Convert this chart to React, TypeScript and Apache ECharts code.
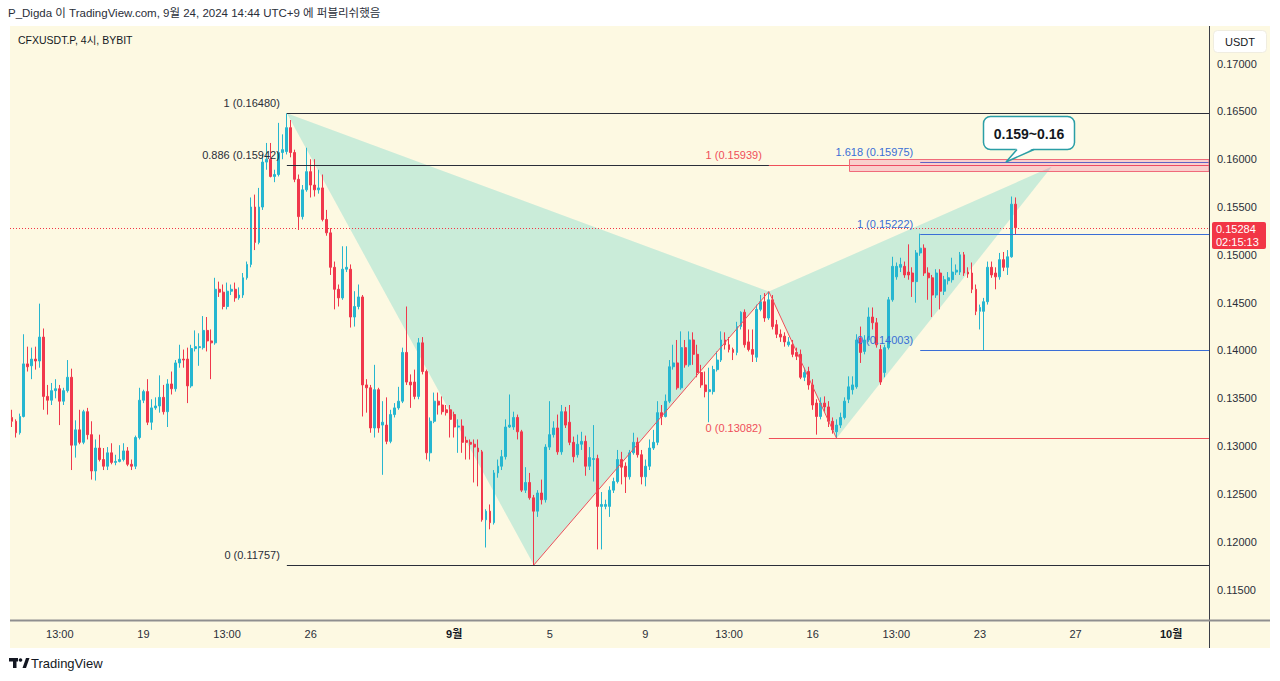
import React, { useEffect, useRef } from "react";
import * as echarts from "echarts";

// ---------- time axis (4h bars, UTC+9 clock) ----------
const BAR_HOURS = 4;
const FIRST_BAR = Date.UTC(2024, 7, 13, 13);
const SLOT_COUNT = 301;
const pad2 = (n: number) => String(n).padStart(2, "0");
const categories: string[] = Array.from({ length: SLOT_COUNT }, (_, i) => {
  const d = new Date(FIRST_BAR + i * BAR_HOURS * 3600 * 1000);
  return `${pad2(d.getUTCMonth() + 1)}-${pad2(d.getUTCDate())} ${pad2(d.getUTCHours())}:00`;
});

// ---------- candles: [open, close, low, high] ----------
const candles: number[][] = [
  [0.1330, 0.1326, 0.1320, 0.1338], [0.1326, 0.1314, 0.1309, 0.1328], [0.1314, 0.1331, 0.1312, 0.1334], [0.1331, 0.1386, 0.1330, 0.1417],
  [0.1386, 0.1383, 0.1378, 0.1404], [0.1384, 0.1391, 0.1370, 0.1403], [0.1391, 0.1389, 0.1380, 0.1404], [0.1389, 0.1414, 0.1382, 0.1449],
  [0.1414, 0.1352, 0.1338, 0.1423], [0.1352, 0.1348, 0.1333, 0.1364], [0.1348, 0.1358, 0.1343, 0.1366], [0.1358, 0.1360, 0.1350, 0.1370],
  [0.1360, 0.1347, 0.1322, 0.1364], [0.1347, 0.1358, 0.1343, 0.1361], [0.1358, 0.1372, 0.1356, 0.1390], [0.1372, 0.1301, 0.1275, 0.1381],
  [0.1301, 0.1317, 0.1288, 0.1327], [0.1317, 0.1304, 0.1302, 0.1338], [0.1304, 0.1336, 0.1302, 0.1338], [0.1336, 0.1312, 0.1307, 0.1340],
  [0.1312, 0.1274, 0.1265, 0.1326], [0.1274, 0.1298, 0.1264, 0.1307], [0.1298, 0.1286, 0.1284, 0.1312], [0.1286, 0.1279, 0.1275, 0.1298],
  [0.1279, 0.1293, 0.1275, 0.1299], [0.1293, 0.1283, 0.1281, 0.1303], [0.1283, 0.1284, 0.1280, 0.1291], [0.1284, 0.1286, 0.1283, 0.1301],
  [0.1286, 0.1295, 0.1284, 0.1303], [0.1295, 0.1281, 0.1279, 0.1299], [0.1281, 0.1279, 0.1275, 0.1286], [0.1279, 0.1309, 0.1276, 0.1311],
  [0.1309, 0.1348, 0.1307, 0.1361], [0.1348, 0.1357, 0.1345, 0.1359], [0.1357, 0.1325, 0.1322, 0.1370], [0.1325, 0.1340, 0.1317, 0.1349],
  [0.1340, 0.1342, 0.1338, 0.1351], [0.1342, 0.1351, 0.1335, 0.1374], [0.1351, 0.1336, 0.1333, 0.1364], [0.1336, 0.1365, 0.1320, 0.1370],
  [0.1365, 0.1360, 0.1354, 0.1378], [0.1360, 0.1387, 0.1357, 0.1390], [0.1387, 0.1391, 0.1382, 0.1406], [0.1391, 0.1390, 0.1382, 0.1401],
  [0.1391, 0.1363, 0.1345, 0.1403], [0.1363, 0.1402, 0.1361, 0.1406], [0.1402, 0.1404, 0.1399, 0.1421], [0.1403, 0.1404, 0.1384, 0.1418],
  [0.1403, 0.1421, 0.1401, 0.1436], [0.1421, 0.1410, 0.1399, 0.1435], [0.1410, 0.1408, 0.1370, 0.1422], [0.1408, 0.1464, 0.1406, 0.1476],
  [0.1464, 0.1461, 0.1456, 0.1472], [0.1461, 0.1446, 0.1443, 0.1469], [0.1446, 0.1462, 0.1443, 0.1471], [0.1462, 0.1464, 0.1458, 0.1469],
  [0.1464, 0.1455, 0.1451, 0.1471], [0.1455, 0.1458, 0.1453, 0.1466], [0.1458, 0.1476, 0.1455, 0.1481], [0.1476, 0.1490, 0.1474, 0.1493],
  [0.1490, 0.1550, 0.1487, 0.1560], [0.1550, 0.1513, 0.1505, 0.1563], [0.1513, 0.1550, 0.1511, 0.1570], [0.1550, 0.1597, 0.1547, 0.1605],
  [0.1597, 0.1600, 0.1589, 0.1617], [0.1600, 0.1582, 0.1581, 0.1617], [0.1582, 0.1584, 0.1576, 0.1589], [0.1584, 0.1607, 0.1582, 0.1638],
  [0.1607, 0.1610, 0.1600, 0.1626], [0.1608, 0.1633, 0.1605, 0.1648], [0.1633, 0.1607, 0.1602, 0.1641], [0.1607, 0.1579, 0.1576, 0.1610],
  [0.1579, 0.1540, 0.1526, 0.1584], [0.1540, 0.1568, 0.1537, 0.1573], [0.1568, 0.1587, 0.1566, 0.1612], [0.1587, 0.1573, 0.1560, 0.1600],
  [0.1573, 0.1568, 0.1561, 0.1600], [0.1568, 0.1570, 0.1564, 0.1589], [0.1570, 0.1537, 0.1535, 0.1584], [0.1537, 0.1523, 0.1520, 0.1547],
  [0.1523, 0.1487, 0.1479, 0.1528], [0.1487, 0.1464, 0.1443, 0.1493], [0.1464, 0.1455, 0.1446, 0.1469], [0.1455, 0.1485, 0.1453, 0.1509],
  [0.1485, 0.1487, 0.1482, 0.1509], [0.1485, 0.1435, 0.1424, 0.1490], [0.1435, 0.1446, 0.1425, 0.1462], [0.1446, 0.1456, 0.1443, 0.1469],
  [0.1456, 0.1364, 0.1331, 0.1458], [0.1364, 0.1361, 0.1335, 0.1370], [0.1361, 0.1319, 0.1314, 0.1364], [0.1319, 0.1359, 0.1309, 0.1385],
  [0.1359, 0.1319, 0.1314, 0.1361], [0.1322, 0.1325, 0.1270, 0.1347], [0.1322, 0.1305, 0.1302, 0.1351], [0.1305, 0.1333, 0.1303, 0.1338],
  [0.1333, 0.1340, 0.1330, 0.1345], [0.1340, 0.1347, 0.1338, 0.1362], [0.1347, 0.1398, 0.1345, 0.1403], [0.1398, 0.1367, 0.1364, 0.1446],
  [0.1367, 0.1364, 0.1340, 0.1375], [0.1367, 0.1352, 0.1349, 0.1380], [0.1352, 0.1408, 0.1349, 0.1413], [0.1408, 0.1378, 0.1375, 0.1414],
  [0.1378, 0.1293, 0.1286, 0.1380], [0.1293, 0.1326, 0.1284, 0.1330], [0.1326, 0.1347, 0.1324, 0.1356], [0.1347, 0.1343, 0.1333, 0.1356],
  [0.1343, 0.1336, 0.1333, 0.1352], [0.1338, 0.1335, 0.1332, 0.1343], [0.1338, 0.1328, 0.1309, 0.1343], [0.1333, 0.1320, 0.1309, 0.1336],
  [0.1320, 0.1321, 0.1293, 0.1328], [0.1321, 0.1304, 0.1293, 0.1328], [0.1306, 0.1304, 0.1286, 0.1310], [0.1304, 0.1302, 0.1286, 0.1307],
  [0.1302, 0.1299, 0.1262, 0.1307], [0.1298, 0.1294, 0.1258, 0.1307], [0.1294, 0.1223, 0.1221, 0.1296], [0.1223, 0.1232, 0.1194, 0.1234],
  [0.1232, 0.1220, 0.1213, 0.1239], [0.1220, 0.1272, 0.1218, 0.1275], [0.1272, 0.1279, 0.1267, 0.1286], [0.1279, 0.1289, 0.1275, 0.1296],
  [0.1289, 0.1320, 0.1286, 0.1328], [0.1320, 0.1322, 0.1319, 0.1354], [0.1320, 0.1330, 0.1317, 0.1336], [0.1330, 0.1315, 0.1307, 0.1333],
  [0.1315, 0.1254, 0.1252, 0.1317], [0.1254, 0.1262, 0.1251, 0.1278], [0.1262, 0.1246, 0.1244, 0.1272], [0.1246, 0.1232, 0.11757, 0.1249],
  [0.1232, 0.1251, 0.1226, 0.1254], [0.1251, 0.1244, 0.1239, 0.1265], [0.1244, 0.1299, 0.1241, 0.1302], [0.1299, 0.1312, 0.1296, 0.1347],
  [0.1312, 0.1319, 0.1309, 0.1326], [0.1319, 0.1294, 0.1291, 0.1333], [0.1294, 0.1336, 0.1291, 0.1343], [0.1336, 0.1322, 0.1319, 0.1341],
  [0.1325, 0.1304, 0.1301, 0.1343], [0.1304, 0.1289, 0.1283, 0.1310], [0.1291, 0.1302, 0.1288, 0.1312], [0.1302, 0.1305, 0.1296, 0.1315],
  [0.1305, 0.1279, 0.1269, 0.1311], [0.1279, 0.1288, 0.1275, 0.1299], [0.1286, 0.1287, 0.1263, 0.1322], [0.1287, 0.1237, 0.1192, 0.1291],
  [0.1237, 0.1239, 0.1192, 0.1252], [0.1237, 0.1239, 0.1234, 0.1244], [0.1237, 0.1254, 0.1226, 0.1258], [0.1254, 0.1263, 0.1251, 0.1267],
  [0.1263, 0.1286, 0.1261, 0.1296], [0.1286, 0.1278, 0.1260, 0.1294], [0.1279, 0.1268, 0.1251, 0.1283], [0.1268, 0.1293, 0.1265, 0.1296],
  [0.1293, 0.1304, 0.1291, 0.1314], [0.1304, 0.1291, 0.1288, 0.1309], [0.1291, 0.1268, 0.1260, 0.1296], [0.1268, 0.1279, 0.1258, 0.1286],
  [0.1279, 0.1298, 0.1275, 0.1307], [0.1298, 0.1304, 0.1296, 0.1317], [0.1304, 0.1335, 0.1301, 0.1347], [0.1335, 0.1331, 0.1322, 0.1343],
  [0.1331, 0.1347, 0.1330, 0.1354], [0.1347, 0.1383, 0.1345, 0.1390], [0.1383, 0.1387, 0.1380, 0.1406], [0.1387, 0.1361, 0.1359, 0.1411],
  [0.1361, 0.1403, 0.1359, 0.1420], [0.1403, 0.1385, 0.1382, 0.1411], [0.1385, 0.1411, 0.1383, 0.1420], [0.1411, 0.1396, 0.1385, 0.1419],
  [0.1396, 0.1377, 0.1372, 0.1406], [0.1377, 0.1364, 0.1361, 0.1385], [0.1364, 0.1357, 0.1351, 0.1378], [0.1357, 0.1359, 0.1325, 0.1382],
  [0.1357, 0.1380, 0.1354, 0.1384], [0.1380, 0.1390, 0.1378, 0.1399], [0.1390, 0.1411, 0.1388, 0.1420], [0.1411, 0.1406, 0.1401, 0.1419],
  [0.1406, 0.1401, 0.1398, 0.1414], [0.1401, 0.1398, 0.1390, 0.1403], [0.1398, 0.1425, 0.1395, 0.1430], [0.1425, 0.1440, 0.1422, 0.1441],
  [0.1440, 0.1406, 0.1403, 0.1443], [0.1409, 0.1401, 0.1399, 0.1422], [0.1401, 0.1396, 0.1388, 0.1422], [0.1393, 0.1443, 0.1388, 0.1448],
  [0.1443, 0.1451, 0.1441, 0.1458], [0.1451, 0.1434, 0.1430, 0.1460], [0.1434, 0.1453, 0.1432, 0.14616], [0.1453, 0.1425, 0.1422, 0.1458],
  [0.1427, 0.1417, 0.1413, 0.1432], [0.1417, 0.1414, 0.1409, 0.1422], [0.1415, 0.1409, 0.1404, 0.1419], [0.1406, 0.1409, 0.1404, 0.1414],
  [0.1406, 0.1396, 0.1393, 0.1411], [0.1398, 0.1394, 0.1390, 0.1403], [0.1396, 0.1372, 0.1370, 0.1401], [0.1372, 0.1377, 0.1368, 0.1382],
  [0.1378, 0.1364, 0.1359, 0.1383], [0.1364, 0.1343, 0.1338, 0.1370], [0.1345, 0.1331, 0.1312, 0.1349], [0.1331, 0.1345, 0.1328, 0.1351],
  [0.1345, 0.1341, 0.1336, 0.1352], [0.1341, 0.1326, 0.1320, 0.1347], [0.1326, 0.1317, 0.1313, 0.1330], [0.1315, 0.1322, 0.13082, 0.1328],
  [0.1322, 0.1330, 0.1319, 0.1335], [0.1330, 0.1347, 0.1328, 0.1351], [0.1349, 0.1362, 0.1345, 0.1373], [0.1359, 0.1364, 0.1354, 0.1373],
  [0.1362, 0.1411, 0.1360, 0.1417], [0.1413, 0.1398, 0.1387, 0.1425], [0.1399, 0.1411, 0.1396, 0.1416], [0.1411, 0.1435, 0.1409, 0.1445],
  [0.1435, 0.1429, 0.1422, 0.1445], [0.1429, 0.1406, 0.1403, 0.1434], [0.1401, 0.1367, 0.1364, 0.1406], [0.1377, 0.1403, 0.1372, 0.1406],
  [0.1403, 0.1453, 0.1401, 0.1456], [0.1453, 0.1488, 0.1451, 0.1498], [0.1477, 0.1488, 0.1474, 0.1492], [0.1487, 0.1490, 0.1482, 0.1497],
  [0.1488, 0.1479, 0.1476, 0.1493], [0.1482, 0.1479, 0.1474, 0.1511], [0.1481, 0.1472, 0.1456, 0.1487], [0.1472, 0.1502, 0.1450, 0.1505],
  [0.1502, 0.1507, 0.1499, 0.15222], [0.1507, 0.1481, 0.1478, 0.1511], [0.1481, 0.1476, 0.1453, 0.1487], [0.1476, 0.1458, 0.1435, 0.1479],
  [0.1458, 0.1481, 0.1455, 0.1485], [0.1481, 0.1462, 0.1443, 0.1485], [0.1462, 0.1474, 0.1458, 0.1478], [0.1473, 0.1476, 0.1469, 0.1482],
  [0.1474, 0.1482, 0.1471, 0.1497], [0.1482, 0.1484, 0.1479, 0.1490], [0.1482, 0.1500, 0.1479, 0.1503], [0.1500, 0.1481, 0.1478, 0.1503],
  [0.1482, 0.1480, 0.1476, 0.1487], [0.1481, 0.1464, 0.1460, 0.1492], [0.1464, 0.1441, 0.1437, 0.1469], [0.1441, 0.1445, 0.1422, 0.1448],
  [0.1441, 0.1451, 0.14003, 0.1455], [0.1451, 0.1487, 0.1448, 0.1493], [0.1487, 0.1479, 0.1476, 0.1493], [0.1481, 0.1477, 0.1464, 0.1487],
  [0.1477, 0.1495, 0.1474, 0.1502], [0.1495, 0.1487, 0.1483, 0.1503], [0.1487, 0.1498, 0.1479, 0.1505], [0.1498, 0.1553, 0.1497, 0.1561],
  [0.1553, 0.15284, 0.1521, 0.1560],
];

// ---------- axis ticks ----------
const timeTickAt = ["08-15 13:00", "08-19 01:00", "08-22 13:00", "08-26 01:00", "09-01 01:00", "09-05 01:00", "09-09 01:00",
  "09-12 13:00", "09-16 01:00", "09-19 13:00", "09-23 01:00", "09-27 01:00", "10-01 01:00"];
const timeTickText = ["13:00", "19", "13:00", "26", "9월", "5", "9", "13:00", "16", "13:00", "23", "27", "10월"];
const priceTicks = [0.115, 0.12, 0.125, 0.13, 0.135, 0.14, 0.145, 0.15, 0.155, 0.16, 0.165, 0.17];

// ---------- drawings ----------
const patternTimes = ["08-25 01:00", "09-04 09:00", "09-14 05:00", "09-17 01:00", "09-26 01:00"]; // X A B C D
const patternPrices = [0.1648, 0.11757, 0.14616, 0.13082, 0.1592];

const blackFibStart = "08-25 01:00";
const blackFibLevels = [1, 0.886, 0];
const blackFibPrices = [0.1648, 0.15942, 0.11757];

const redFibStart = "09-14 05:00";
const redFibLevels = [1, 0];
const redFibPrices = [0.15939, 0.13082];

const blueFibStart = "09-20 13:00";
const blueFibLevels = [1.618, 1, 0];
const blueFibPrices = [0.15975, 0.15222, 0.14003];

const zoneStart = "09-17 13:00";
const zoneTop = 0.15998;
const zoneBottom = 0.15875;

const calloutAt = "09-24 01:00";
const calloutPrice = 0.15975;
const calloutText = "0.159~0.16";

const lastPrice = 0.15284;
const countdown = "02:15:13";

// ---------- styles ----------
const CREAM = "#fdf9e2";
const UP = "#26b6d0";
const DOWN = "#f0384c";
const BLACK = "#2a2e39";
const RED = "#ef4f5a";
const BLUE = "#3a6ed6";
const FONT_FAMILY = "'Liberation Sans', Arial, 'Noto Sans CJK KR', sans-serif";
const FONT11 = `11px ${FONT_FAMILY}`;

const idx = (t: string) => categories.indexOf(t);
const tickMap = new Map<string, string>(timeTickAt.map((t, k) => [t, timeTickText[k]]));

function renderPattern(params: any, api: any) {
  const pts = patternTimes.map((t, k) => api.coord([idx(t), patternPrices[k]]));
  const fill = "rgba(0, 186, 184, 0.2)";
  return {
    type: "group",
    children: [
      { type: "polygon", shape: { points: [pts[0], pts[1], pts[2]] }, style: { fill } },
      { type: "polygon", shape: { points: [pts[2], pts[3], pts[4]] }, style: { fill } },
    ],
  };
}

function renderDrawings(params: any, api: any) {
  const cs = params.coordSys;
  const left = cs.x;
  const right = cs.x + cs.width;
  const X = (t: string) => api.coord([idx(t), 0.14])[0];
  const Y = (p: number) => Math.round(api.coord([0, p])[1]) + 0.5;
  const els: any[] = [];
  const hLine = (x0: number, p: number, stroke: string, dash?: number[]) =>
    els.push({ type: "line", shape: { x1: x0, y1: Y(p), x2: right, y2: Y(p) }, style: { stroke, lineWidth: 1, lineDash: dash } });
  const lvlLabel = (x0: number, p: number, text: string, fill: string) =>
    els.push({ type: "text", style: { x: x0 - 7, y: Y(p) - 5, text, fill, font: FONT11, align: "right", verticalAlign: "bottom" } });

  // current price dotted line
  hLine(left, lastPrice, "#f23645", [1, 2]);

  // black fib retracement
  const bx = X(blackFibStart);
  blackFibLevels.forEach((lv, k) => {
    hLine(bx, blackFibPrices[k], BLACK);
    lvlLabel(bx, blackFibPrices[k], `${lv} (${blackFibPrices[k].toFixed(5)})`, BLACK);
  });

  // red trend-based fib extension
  const rx = X(redFibStart);
  redFibLevels.forEach((lv, k) => {
    hLine(rx, redFibPrices[k], RED);
    lvlLabel(rx, redFibPrices[k], `${lv} (${redFibPrices[k].toFixed(5)})`, RED);
  });
  const trend = [1, 2, 3].map((k) => api.coord([idx(patternTimes[k]), patternPrices[k]]));
  els.push({ type: "polyline", shape: { points: trend }, style: { stroke: RED, lineWidth: 1, fill: null } });

  // blue fib
  const ux = X(blueFibStart);
  blueFibLevels.forEach((lv, k) => {
    hLine(ux, blueFibPrices[k], BLUE);
    lvlLabel(ux, blueFibPrices[k], `${lv} (${blueFibPrices[k].toFixed(5)})`, BLUE);
  });

  // target zone
  const zx = X(zoneStart);
  const zt = Y(zoneTop);
  const zb = Y(zoneBottom);
  els.push({
    type: "rect",
    shape: { x: Math.round(zx) + 0.5, y: zt, width: right - Math.round(zx) - 0.5, height: zb - zt },
    style: { fill: "rgba(238, 58, 128, 0.22)", stroke: "#f06b7a", lineWidth: 1 },
  });

  // callout
  const tip = api.coord([idx(calloutAt), calloutPrice]);
  const tx = Math.round(tip[0]) + 2;
  const ty = Math.round(tip[1]);
  const bxL = tx - 23, bxR = tx + 68, byT = ty - 46, byB = ty - 13;
  els.push({ type: "rect", shape: { x: bxL + 0.5, y: byT + 0.5, width: bxR - bxL, height: byB - byT, r: 7 }, style: { fill: "#ffffff", stroke: "#2a9ea6", lineWidth: 1.5 } });
  els.push({ type: "polygon", shape: { points: [[tx + 11, byB - 1], [tx, ty], [tx + 28, byB - 1]] }, style: { fill: "#ffffff" } });
  els.push({ type: "polyline", shape: { points: [[tx + 11, byB + 0.5], [tx, ty], [tx + 28, byB + 0.5]] }, style: { stroke: "#2a9ea6", lineWidth: 1.5, fill: null } });
  els.push({ type: "text", style: { x: (bxL + bxR) / 2 + 0.5, y: (byT + byB) / 2 + 1, text: calloutText, fill: "#131722", font: `bold 14px ${FONT_FAMILY}`, align: "center", verticalAlign: "middle" } });

  // last price tag on the price scale
  const ly = Y(lastPrice);
  els.push({ type: "rect", shape: { x: right + 3, y: ly - 6.5, width: 54, height: 27, r: 2 }, style: { fill: "#f23645" } });
  els.push({ type: "text", style: { x: right + 7, y: ly + 0.5, text: lastPrice.toFixed(5), fill: "#ffffff", font: FONT11, align: "left", verticalAlign: "middle" } });
  els.push({ type: "text", style: { x: right + 7, y: ly + 13.5, text: countdown, fill: "#ffffff", font: FONT11, align: "left", verticalAlign: "middle" } });

  return { type: "group", children: els };
}

const option: any = {
  animation: false,
  backgroundColor: "#ffffff",
  grid: { left: 10, top: 26, width: 1199, height: 594, containLabel: false },
  xAxis: {
    type: "category",
    data: categories,
    boundaryGap: true,
    axisLine: { show: false },
    axisTick: { show: false },
    splitLine: { show: false },
    axisLabel: {
      interval: (_i: number, value: string) => tickMap.has(value),
      formatter: (value: string) => {
        const t = tickMap.get(value) || "";
        return t.endsWith("월") ? `{b|${t}}` : t;
      },
      color: "#2a2e39",
      fontSize: 11,
      fontFamily: FONT_FAMILY,
      margin: 8,
      rich: { b: { fontWeight: "bold", fontSize: 11, color: "#131722", fontFamily: FONT_FAMILY } },
    },
  },
  yAxis: {
    type: "value",
    position: "right",
    min: 0.11182,
    max: 0.17393,
    axisLine: { show: false },
    axisTick: { show: false },
    splitLine: { show: false },
    axisLabel: {
      customValues: priceTicks,
      formatter: (v: number) => v.toFixed(5),
      color: "#2a2e39",
      fontSize: 11,
      fontFamily: FONT_FAMILY,
      margin: 8,
    },
  },
  series: [
    { type: "custom", name: "pattern", z: 1, silent: true, coordinateSystem: "cartesian2d", renderItem: renderPattern, data: [[0, 0.14]] },
    {
      type: "candlestick",
      name: "CFXUSDT.P",
      z: 2,
      silent: true,
      data: candles,
      barWidth: 2.4,
      itemStyle: { color: UP, color0: DOWN, borderColor: UP, borderColor0: DOWN, borderWidth: 1 },
    },
    { type: "custom", name: "drawings", z: 3, silent: true, clip: false, coordinateSystem: "cartesian2d", renderItem: renderDrawings, data: [[0, 0.14]] },
  ],
  graphic: [
    { type: "rect", z: -10, silent: true, shape: { x: 10, y: 26, width: 1260, height: 622 }, style: { fill: CREAM } },
    { type: "text", z: 10, x: 8, y: 13, style: { text: "P_Digda 이 TradingView.com, 9월 24, 2024 14:44 UTC+9 에 퍼블리쉬했음", fill: "#2a2e39", font: `11.5px ${FONT_FAMILY}`, verticalAlign: "middle" } },
    { type: "text", z: 10, x: 18, y: 40, style: { text: "CFXUSDT.P, 4시, BYBIT", fill: "#131722", font: `10.5px ${FONT_FAMILY}`, verticalAlign: "middle" } },
    { type: "rect", z: 10, shape: { x: 1213.5, y: 30.5, width: 53, height: 22, r: 4 }, style: { fill: "#ffffff", stroke: "#f0ede0", lineWidth: 1 } },
    { type: "text", z: 11, x: 1240, y: 42, style: { text: "USDT", fill: "#131722", font: FONT11, align: "center", verticalAlign: "middle" } },
    { type: "line", z: 10, shape: { x1: 1209.5, y1: 26, x2: 1209.5, y2: 648 }, style: { stroke: "#3b3e47", lineWidth: 1 } },
    { type: "line", z: 10, shape: { x1: 10, y1: 620.5, x2: 1270, y2: 620.5 }, style: { stroke: "#8f8f8f", lineWidth: 2 } },
    // TradingView logo
    { type: "rect", z: 10, shape: { x: 9, y: 658, width: 9, height: 3.5 }, style: { fill: "#131722" } },
    { type: "rect", z: 10, shape: { x: 13, y: 658, width: 3.5, height: 10 }, style: { fill: "#131722" } },
    { type: "circle", z: 10, shape: { cx: 20.5, cy: 660, r: 1.8 }, style: { fill: "#131722" } },
    { type: "polygon", z: 10, shape: { points: [[22.5, 668], [26, 658], [29.5, 658], [26, 668]] }, style: { fill: "#131722" } },
    { type: "text", z: 10, x: 31, y: 663, style: { text: "TradingView", fill: "#131722", font: `13px ${FONT_FAMILY}`, verticalAlign: "middle" } },
  ],
};

export default function App() {
  const ref = useRef<HTMLDivElement>(null);
  useEffect(() => {
    document.body.style.margin = "0";
    const chart = echarts.init(ref.current as HTMLDivElement, null, { renderer: "svg" });
    chart.setOption(option);
    return () => chart.dispose();
  }, []);
  return <div ref={ref} style={{ width: 1280, height: 681 }} />;
}
